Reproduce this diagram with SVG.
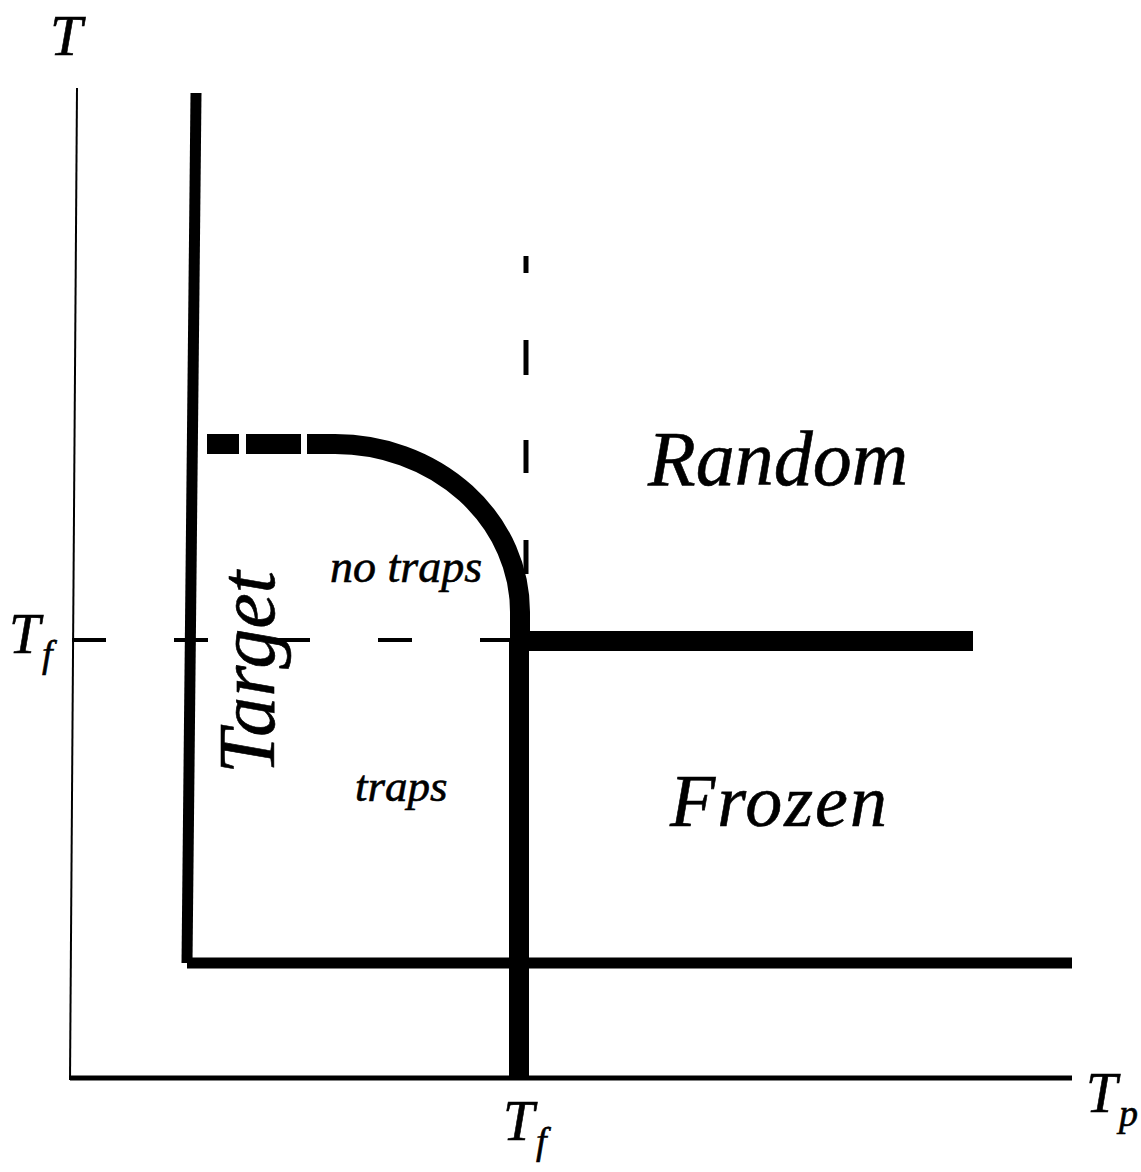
<svg xmlns="http://www.w3.org/2000/svg" width="1141" height="1172" viewBox="0 0 1141 1172">
<style>
.t{font-family:"Liberation Serif","Times New Roman",serif;font-style:italic;fill:#000;stroke:#000;stroke-width:0.6}
.ln{stroke:#000;fill:none}
</style>
<rect width="1141" height="1172" fill="#fff"/>
<g id="connectors">
<line class="ln" x1="77" y1="88" x2="70" y2="1080" stroke-width="2"/>
<line class="ln" x1="70" y1="1078" x2="1072" y2="1078" stroke-width="5"/>
<line class="ln" x1="196" y1="93" x2="187" y2="963" stroke-width="11"/>
<line class="ln" x1="187" y1="963" x2="1072" y2="963" stroke-width="11"/>
<line class="ln" x1="519" y1="640" x2="519" y2="1078" stroke-width="20"/>
<line class="ln" x1="510" y1="641" x2="973" y2="641" stroke-width="20"/>
<line class="ln" x1="72" y1="640" x2="516" y2="640" stroke-width="4" stroke-dasharray="34 68"/>
<g class="ln" stroke-width="5">
<line x1="526" y1="256" x2="526" y2="273"/>
<line x1="526" y1="340" x2="526" y2="375"/>
<line x1="526" y1="440" x2="526" y2="473"/>
<line x1="526" y1="540" x2="526" y2="574"/>
</g>
<g class="ln" stroke-width="20">
<line x1="207" y1="444" x2="239" y2="444"/>
<line x1="246" y1="444" x2="301" y2="444"/>
<path d="M307 444 H335 A185 168 0 0 1 520 612 V642"/>
</g>
</g>
<g id="axis-T"><text class="t" x="50" y="55" font-size="58" stroke-width="1.5">T</text></g>
<g id="axis-Tf-left"><text class="t" x="9" y="653" font-size="56">T</text><text class="t" x="42" y="667" font-size="38">f</text></g>
<g id="axis-Tf-bottom"><text class="t" x="503" y="1140" font-size="56">T</text><text class="t" x="536" y="1154" font-size="38">f</text></g>
<g id="axis-Tp"><text class="t" x="1086" y="1112" font-size="56">T</text><text class="t" x="1119" y="1126" font-size="38">p</text></g>
<g id="random"><text class="t" x="648" y="485" font-size="78">Random</text></g>
<g id="frozen"><text class="t" x="670" y="826" font-size="74" letter-spacing="2">Frozen</text></g>
<g id="target"><text class="t" transform="translate(274,774) rotate(-90)" font-size="80">Target</text></g>
<g id="no-traps"><text class="t" x="330" y="582" font-size="46">no traps</text></g>
<g id="traps"><text class="t" x="355" y="801" font-size="45">traps</text></g>
</svg>
